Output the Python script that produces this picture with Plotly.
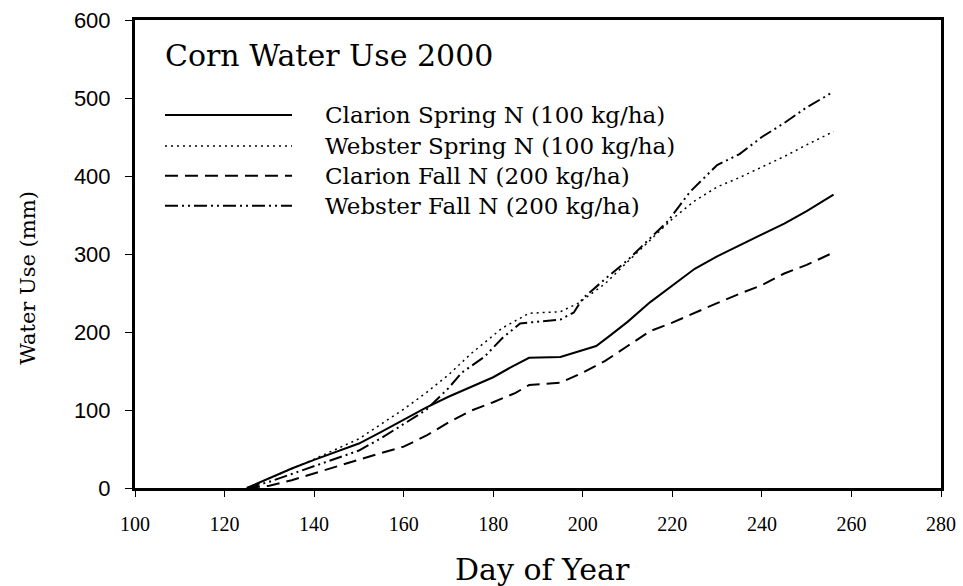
import plotly.graph_objects as go

# day of year / cumulative water use (mm)
clarion_spring_day = [125, 130, 135, 140, 145, 150, 155, 160, 165, 170, 175, 180, 184, 188, 195, 200, 203, 206, 210, 215, 220, 225, 230, 235, 240, 245, 250, 256]
clarion_spring_mm = [0, 13, 25, 36, 46, 57, 72, 88, 103, 117, 130, 142, 155, 167, 168, 177, 182, 195, 213, 238, 260, 281, 297, 311, 324, 339, 355, 376]

webster_spring_day = [125, 130, 135, 140, 145, 150, 155, 160, 165, 170, 175, 178, 182, 188, 195, 199, 201, 205, 210, 215, 220, 225, 230, 235, 240, 245, 250, 256]
webster_spring_mm = [0, 12, 24, 37, 50, 63, 82, 101, 122, 145, 172, 186, 205, 224, 226, 237, 245, 262, 290, 318, 345, 368, 386, 398, 411, 425, 440, 457]

clarion_fall_day = [125, 130, 135, 140, 145, 150, 155, 160, 165, 170, 175, 180, 185, 188, 195, 200, 205, 210, 215, 220, 225, 230, 235, 240, 245, 250, 256]
clarion_fall_mm = [0, 3, 10, 19, 28, 36, 45, 53, 67, 84, 99, 110, 122, 132, 135, 148, 163, 182, 201, 212, 225, 237, 249, 260, 275, 286, 302]

webster_fall_day = [125, 130, 135, 140, 145, 150, 155, 160, 165, 170, 173, 178, 182, 186, 195, 198, 200, 205, 210, 215, 219, 222, 224, 227, 230, 235, 240, 245, 250, 256]
webster_fall_mm = [0, 8, 18, 28, 37, 48, 64, 82, 100, 128, 148, 168, 192, 211, 216, 225, 243, 268, 292, 320, 342, 365, 380, 397, 414, 428, 450, 468, 488, 508]

names = ["Clarion Spring N (100 kg/ha)", "Webster Spring N (100 kg/ha)",
         "Clarion Fall N (200 kg/ha)", "Webster Fall N (200 kg/ha)"]
dashes = ["solid", "2px,4px", "13px,7px", "13px,4px,2px,4px,2px,4px"]
widths = [2, 1.5, 2, 2]

series = [(clarion_spring_day, clarion_spring_mm), (webster_spring_day, webster_spring_mm),
          (clarion_fall_day, clarion_fall_mm), (webster_fall_day, webster_fall_mm)]

fig = go.Figure()
for (d, mm), name, dash, w in zip(series, names, dashes, widths):
    fig.add_trace(go.Scatter(x=d, y=mm, mode="lines", name=name,
                             line=dict(color="black", width=w, dash=dash)))

serif = "DejaVu Serif"

# hand-drawn legend (long line samples like the original)
row_y = [0.797, 0.731, 0.667, 0.603]
for y, name, dash, w in zip(row_y, names, dashes, widths):
    fig.add_shape(type="line", xref="paper", yref="paper", x0=0.0372, x1=0.1948, y0=y, y1=y,
                  line=dict(color="black", width=w, dash=dash))
    fig.add_annotation(text=name, xref="paper", yref="paper", x=0.2333, y=y,
                       xanchor="left", yanchor="middle", showarrow=False,
                       font=dict(family=serif, size=23, color="black"))

fig.add_annotation(text="Corn Water Use 2000", xref="paper", yref="paper", x=0.0347, y=0.925,
                   xanchor="left", yanchor="middle", showarrow=False,
                   font=dict(family=serif, size=30, color="black"))
fig.add_annotation(text="Day of Year", xref="paper", yref="paper", x=0.505, y=-0.175,
                   xanchor="center", yanchor="middle", showarrow=False,
                   font=dict(family=serif, size=30, color="black"))
fig.add_annotation(text="Water Use (mm)", xref="paper", yref="paper", x=-0.1328, y=0.449,
                   xanchor="center", yanchor="middle", showarrow=False, textangle=-90,
                   font=dict(family=serif, size=21, color="black"))

fig.update_layout(
    width=963, height=586,
    margin=dict(l=135, r=22, t=20, b=98),
    plot_bgcolor="white", paper_bgcolor="white",
    showlegend=False,
)
fig.update_xaxes(range=[100, 280], tickvals=list(range(100, 281, 20)), automargin=False,
                 showgrid=False, zeroline=False, showline=True, linecolor="black",
                 linewidth=3, mirror=True, ticks="outside", ticklen=6, tickwidth=1,
                 tickcolor="black", ticklabelstandoff=10,
                 tickfont=dict(family="Liberation Serif", size=20, color="black"))
fig.update_yaxes(range=[0, 600], tickvals=list(range(0, 601, 100)), automargin=False,
                 showgrid=False, zeroline=False, showline=True, linecolor="black",
                 linewidth=3, mirror=True, ticks="outside", ticklen=7, tickwidth=1,
                 tickcolor="black", ticklabelstandoff=10, ticklabeloverflow="allow",
                 tickfont=dict(family="Liberation Sans", size=22, color="black"))

# drop the default 8px body margin so the figure fills the window
fig.write_html("out.html", config={"displayModeBar": False},
               post_script="document.body.style.margin='0px';")
